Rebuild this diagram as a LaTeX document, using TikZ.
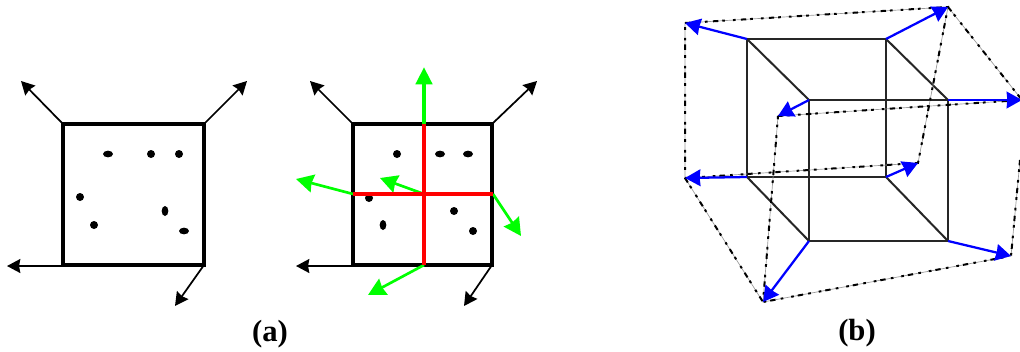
\documentclass[tikz,border=0pt]{standalone}
\usepackage{fontspec}
\setmainfont{Liberation Serif}
\usetikzlibrary{arrows.meta, shapes.geometric}

\begin{document}
\begin{tikzpicture}[
  x=0.75pt, y=-0.75pt,
  font=\fontsize{23}{25}\selectfont\bfseries,
  outer/.style={draw, line width=2.7pt, line cap=rect},
  blackarrow/.style={-{Stealth[length=10pt, width=10.5pt, inset=1pt]}, line width=1.3pt},
  greenarrow/.style={-{Stealth[length=13pt, width=13.5pt, inset=1pt]}, draw=green, line width=2pt},
  bluearrow/.style={-{Stealth[length=11.5pt, width=12.5pt, inset=0.5pt]}, draw=blue, line width=1.7pt},
  splitline/.style={draw=red, line width=3.6pt},
  face/.style={draw=black!85, line width=1.5pt},
  hull/.style={draw=black!40, line width=0.5pt},
  hullmark/.style={draw=black, line width=1.5pt, dash pattern=on 4pt off 3pt on 2pt off 6pt on 2pt off 4pt},
  spot/.style={circle, fill=black, inner sep=0pt, minimum size=6pt},
  widespot/.style={ellipse, fill=black, inner sep=0pt, minimum width=7.5pt, minimum height=5pt},
  tallspot/.style={ellipse, fill=black, inner sep=0pt, minimum width=5pt, minimum height=7.5pt},
]
\useasboundingbox (0,0) rectangle (1020,351);

% ================= (a) plain square =================
\coordinate (a1) at (63,124);
\coordinate (a2) at (204,124);
\coordinate (a3) at (204,265);
\coordinate (a4) at (63,266);
\path[outer] (63,124) -- (a2) -- (a3) -- (63,265) -- cycle;

\coordinate (a1end) at (21,81);
\coordinate (a2end) at (247,81);
\coordinate (a3end) at (175,306);
\coordinate (a4end) at (7,266);
\foreach \i in {1,...,4}
  \draw[blackarrow] (a\i) -- (a\i end);

\foreach \s/\x/\y/\k in {1/108/154/widespot, 2/151/154/spot, 3/179/154/spot, 4/80/197/spot,
                         5/94/225/spot, 6/165/211/tallspot, 7/184/231/widespot}
  \node[\k] (as\s) at (\x,\y) {};

\node (alabel) at (270,334) {(a)};

% ================= (a) split square =================
\coordinate (s1) at (353,124);
\coordinate (s2) at (492,124);
\coordinate (s3) at (492,265);
\coordinate (s4) at (353,266);
\path[outer] (353,124) -- (s2) -- (s3) -- (353,265) -- cycle;

\coordinate (s1end) at (310,81);
\coordinate (s2end) at (537,81);
\coordinate (s3end) at (464,306);
\coordinate (s4end) at (296,266);
\foreach \i in {1,...,4}
  \draw[blackarrow] (s\i) -- (s\i end);

\foreach \s/\x/\y/\k in {1/397/154/spot, 2/440/154/widespot, 3/468/154/widespot, 4/369/198/spot,
                         5/383/225/tallspot, 6/454/211/spot, 7/473/231/spot}
  \node[\k] (ss\s) at (\x,\y) {};

\coordinate (top) at (424,124);
\coordinate (bot) at (424,265);
\coordinate (lft) at (353,194);
\coordinate (rgt) at (493,194);
\coordinate (mid) at (424,194);
\draw[greenarrow, line width=3.6pt, -{Stealth[length=13pt, width=12pt, inset=0pt]}] (top) -- (424,67);
\draw[greenarrow] (lft) -- (296,179);
\draw[greenarrow] (mid) -- (380,178);
\draw[greenarrow] (rgt) -- (521,236);
\draw[greenarrow] (bot) -- (368,295);
\draw[splitline] (top) -- (bot);
\draw[splitline] (lft) -- (rgt);

% ================= (b) =================
\coordinate (b1) at (747,39);
\coordinate (b2) at (886,39);
\coordinate (b3) at (886,177);
\coordinate (b4) at (747,177);
\coordinate (f1) at (809,100);
\coordinate (f2) at (948,100);
\coordinate (f3) at (948,241);
\coordinate (f4) at (809,241);
\draw[face] (b1) -- (b2) -- (b3) -- (b4) -- cycle;
\draw[face] (f1) -- (f2) -- (f3) -- (f4) -- cycle;
\foreach \i in {1,...,4}
  \draw[face] (b\i) -- (f\i);

\coordinate (bo1) at (685,23);
\coordinate (bo2) at (948,7);
\coordinate (bo3) at (918,163);
\coordinate (bo4) at (685,178);
\coordinate (fo1) at (778,116);
\coordinate (fo2) at (1022,100);
\coordinate (fo3) at (1011,256);
\coordinate (fo4) at (763,302);
\coordinate (cut) at (1020,160);

% dash-dot hull over a thin grey line
\foreach \st in {hull, hullmark} {
  \draw[\st] (bo1) -- (bo2) -- (bo3) -- (bo4) -- cycle;
  \draw[\st] (fo1) -- (fo2);
  \draw[\st] (cut) -- (fo3) -- (fo4) -- (fo1);
  \draw[\st] (bo2) -- (fo2);
  \draw[\st] (bo4) -- (fo4);
}

\foreach \i in {1,...,4} {
  \draw[bluearrow] (b\i) -- (bo\i);
  \draw[bluearrow] (f\i) -- (fo\i);
}

\node (blabel) at (857,333) {(b)};
\end{tikzpicture}
\end{document}
